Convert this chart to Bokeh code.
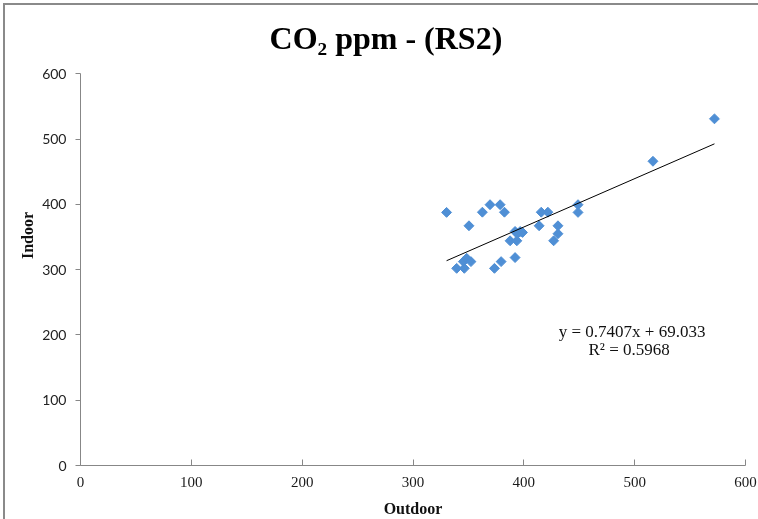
import numpy as np
from bokeh.plotting import figure
from bokeh.models import Range1d, Label, FixedTicker
from bokeh.embed import file_html
from bokeh.resources import INLINE

# ---- data ----
outdoor = [330.3, 350.5, 362.6, 369.5, 378.6, 382.5, 339.4, 346.3, 345.4, 348.4,
           352.3, 373.5, 379.5, 387.6, 393.7, 392.1, 392.1, 394.3, 396.7, 398.8,
           413.8, 415.7, 421.7, 426.9, 430.8, 430.8, 448.9, 448.9, 516.5, 572.0]
indoor = [387.7, 367.2, 388.0, 399.5, 399.5, 388.0, 302.0, 302.0, 312.3, 317.4,
          312.3, 302.0, 312.3, 344.2, 344.2, 318.5, 358.5, 355.0, 358.5, 357.0,
          367.2, 388.0, 388.0, 344.2, 355.0, 367.2, 387.7, 399.5, 466.0, 531.0]
slope = 0.7407
intercept = 69.033
r_squared = 0.5968
x_ticks = [0, 100, 200, 300, 400, 500, 600]
y_ticks = [0, 100, 200, 300, 400, 500, 600]
title_text = "CO\u2082 ppm - (RS2)"
x_label = "Outdoor"
y_label = "Indoor"

# layout: frame spans the full canvas height above the x axis so the title fits inside it
W, H = 753, 514
FRAME_H = 458
AXIS_MAX = 600
y_top = AXIS_MAX * FRAME_H / 390.0

p = figure(width=W, height=H, output_backend="svg", toolbar_location=None,
           x_range=Range1d(0, 600), y_range=Range1d(0, y_top),
           min_border_left=75, min_border_right=15, min_border_top=0,
           min_border_bottom=H - FRAME_H)
p.title.text = ""
p.title.visible = False
p.styles = {"position": "fixed", "left": "3px", "top": "3px",
            "border-left": "2px solid #8a8a8a", "border-top": "2px solid #8a8a8a",
            "box-sizing": "content-box"}
p.background_fill_color = "white"
p.border_fill_color = "white"
p.outline_line_color = None
p.xgrid.visible = False
p.ygrid.visible = False

axis_col = "#878787"
for ax in (p.xaxis[0], p.yaxis[0]):
    ax.axis_line_color = axis_col
    ax.major_tick_line_color = axis_col
    ax.minor_tick_line_color = None
    ax.axis_label_text_font = "Liberation Serif"
    ax.axis_label_text_font_style = "bold"
    ax.axis_label_text_font_size = "16px"
    ax.axis_label_text_color = "#111111"

p.yaxis.bounds = (0, AXIS_MAX)
p.xaxis.ticker = FixedTicker(ticks=x_ticks)
p.yaxis.ticker = FixedTicker(ticks=y_ticks)
p.xaxis.major_tick_in = 6
p.xaxis.major_tick_out = 0
p.yaxis.major_tick_in = 0
p.yaxis.major_tick_out = 5
p.xaxis.major_label_text_font = "Liberation Serif"
p.xaxis.major_label_text_font_size = "15px"
p.xaxis.major_label_text_color = "#1a1a1a"
p.xaxis.major_label_standoff = 11
p.yaxis.major_label_text_font = "Lato"
p.yaxis.major_label_text_font_size = "14px"
p.yaxis.major_label_text_color = "#222222"
p.yaxis.major_label_standoff = 9
p.xaxis.axis_label = x_label
p.yaxis.axis_label = y_label
p.xaxis.axis_label_standoff = 10
p.yaxis.axis_label_standoff = 3

# scatter
p.scatter(outdoor, indoor, marker="square", angle=np.pi / 4, size=7,
          fill_color="#4F8FD5", line_color="#4F8FD5")

# linear trendline over the data range
xs = [min(outdoor), max(outdoor)]
ys = [slope * v + intercept for v in xs]
p.line(xs, ys, line_color="black", line_width=1)

eq_font = "Liberation Serif"
p.add_layout(Label(x=497.7, y=206, text=f"y = {slope}x + {intercept}",
                   text_align="center", text_baseline="middle",
                   text_font=eq_font, text_font_size="17px", text_color="#111111"))
p.add_layout(Label(x=495, y=178, text=f"R² = {r_squared}",
                   text_align="center", text_baseline="middle",
                   text_font=eq_font, text_font_size="17px", text_color="#111111"))

# chart title
p.add_layout(Label(x=275.6, y=655, text=title_text, text_align="center",
                   text_baseline="alphabetic", text_font="Liberation Serif",
                   text_font_style="bold", text_font_size="32px", text_color="black"))

open("out.html", "w").write(file_html(p, INLINE))
